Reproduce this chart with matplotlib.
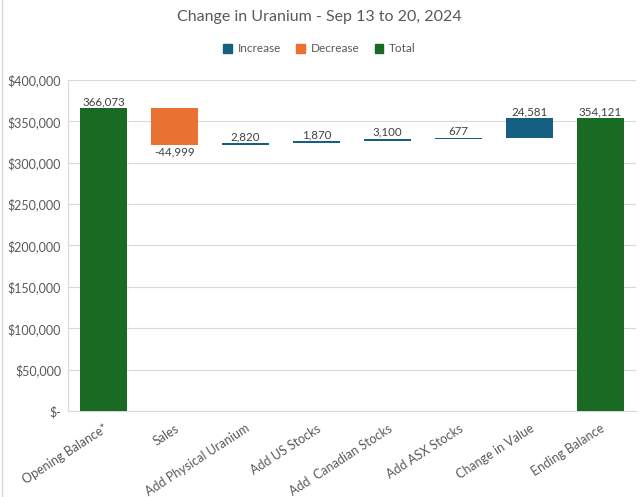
import matplotlib
matplotlib.use("Agg")
import matplotlib.pyplot as plt
from matplotlib.lines import Line2D
from matplotlib.patches import Patch
from matplotlib.ticker import FuncFormatter

categories = ["Opening Balance*", "Sales", "Add Physical Uranium", "Add US Stocks",
              "Add  Canadian Stocks", "Add ASX Stocks", "Change in Value", "Ending Balance"]
values = [366073, -44999, 2820, 1870, 3100, 677, 24581, 354121]
kinds = ["total", "decrease", "increase", "increase", "increase", "increase", "increase", "total"]
yticks = [0, 50000, 100000, 150000, 200000, 250000, 300000, 350000, 400000]

colors = {"increase": "#156082", "decrease": "#E97132", "total": "#196B24"}
plt.rcParams['font.family'] = ['Lato', 'DejaVu Sans']

fig = plt.figure(figsize=(6.39, 4.97), dpi=100)
ax = fig.add_axes([68/639, 1-411/497, (636-68)/639, (411-80)/497])

running = 0
for i, (v, k) in enumerate(zip(values, kinds)):
    if k == "total":
        bottom, height = 0, v
        running = v
        top = v
    else:
        bottom = running
        height = v
        running += v
        top = max(bottom, running)
    ax.bar(i, height, bottom=bottom, width=0.65, color=colors[k], zorder=3)
    lab = f"{v:,.0f}"
    if v < 0:
        ax.text(i, running - 1500, lab, ha="center", va="top", fontsize=8.3, color="#404040")
    else:
        ax.text(i, top + 1200, lab, ha="center", va="bottom", fontsize=8.3, color="#404040")

ax.set_ylim(0, 400000)
ax.set_xlim(-0.5, len(categories) - 0.5)
ax.set_yticks(yticks)
ax.yaxis.set_major_formatter(FuncFormatter(lambda x, p: "$-" if x == 0 else f"${x:,.0f}"))
ax.set_xticks(range(len(categories)))
ax.set_xticklabels(categories, rotation=33, ha="right", rotation_mode="anchor")
ax.tick_params(axis="both", length=0, labelsize=9, colors="#595959", pad=5)
ax.tick_params(axis="x", pad=8)
ax.grid(axis="y", color="#D9D9D9", linewidth=0.8, zorder=0)
for s in ["top", "right"]:
    ax.spines[s].set_visible(False)
ax.spines["left"].set_color("#D9D9D9")
ax.spines["bottom"].set_color("#D9D9D9")

fig.text(0.5, 1-17/497, "Change in Uranium - Sep 13 to 20, 2024", ha="center", va="center",
         fontsize=11.5, color="#595959")
handles = [Patch(color=colors["increase"], label="Increase"),
           Patch(color=colors["decrease"], label="Decrease"),
           Patch(color=colors["total"], label="Total")]
fig.legend(handles=handles, loc="center", bbox_to_anchor=(0.5, 1-49/497), ncol=3, frameon=False,
           fontsize=8.5, handlelength=0.7, handleheight=0.7, handletextpad=0.5, columnspacing=1.3,
           labelcolor="#595959")
fig.add_artist(Line2D([2/639, 2/639], [0, 1], transform=fig.transFigure, color="#D9D9D9", linewidth=1))

fig.savefig("out.png", dpi=100)
